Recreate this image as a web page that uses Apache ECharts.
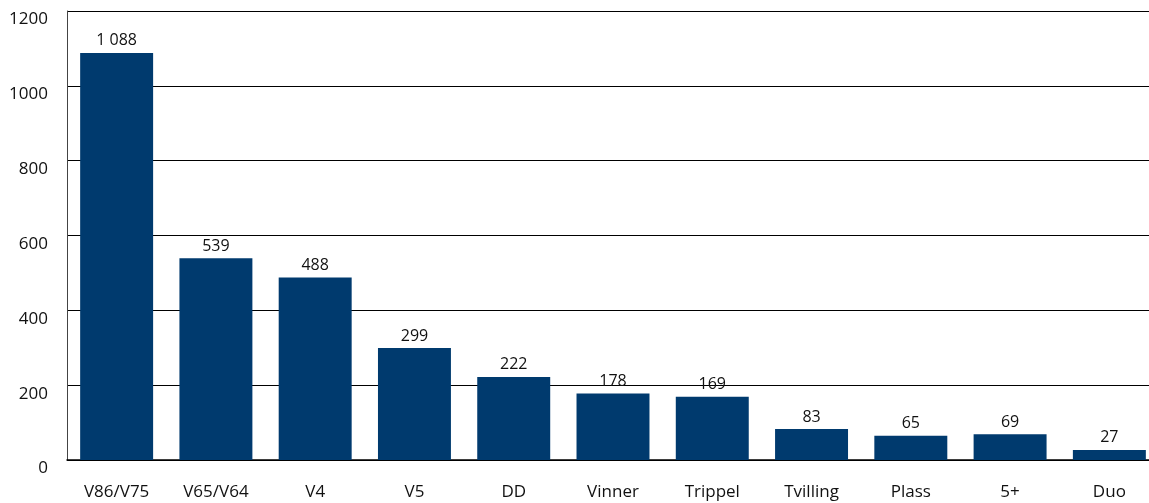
<!DOCTYPE html>
<html>
<head>
<meta charset="utf-8">
<script src="https://cdn.jsdelivr.net/npm/echarts@6/dist/echarts.min.js"></script>
<style>
  html, body { margin: 0; padding: 0; background: #fff; overflow: hidden; }
  #main { width: 1159px; height: 503px; }
</style>
</head>
<body>
<div id="main"></div>
<script>
var categories = ['V86/V75', 'V65/V64', 'V4', 'V5', 'DD', 'Vinner', 'Trippel', 'Tvilling', 'Plass', '5+', 'Duo'];
var values = [1088, 539, 488, 299, 222, 178, 169, 83, 65, 69, 27];

var chart = echarts.init(document.getElementById('main'));

var option = {
    backgroundColor: '#ffffff',
    animation: false,
    textStyle: { fontFamily: 'Open Sans' },
    grid: { left: 67, right: 0, top: 11, bottom: 43 },
    xAxis: {
        type: 'category',
        data: categories,
        axisLine: { lineStyle: { color: '#000', width: 1.5 } },
        axisTick: { show: false },
        axisLabel: { color: '#111', fontSize: 17, margin: 24, fontFamily: 'Open Sans' }
    },
    yAxis: {
        type: 'value',
        min: 0,
        max: 1200,
        interval: 200,
        axisLine: { show: true, lineStyle: { color: '#444', width: 1 } },
        axisTick: { show: false },
        axisLabel: {
            color: '#111', fontSize: 17, margin: 19, verticalAlign: 'top',
            fontFamily: 'Open Sans',
            formatter: function (v) { return String(v); }
        },
        splitLine: { lineStyle: { color: '#000', width: 1 } }
    },
    series: [{
        type: 'bar',
        data: values,
        barWidth: '73.5%',
        itemStyle: { color: '#003a6e' },
        label: {
            show: true,
            position: 'top',
            distance: 4,
            color: '#111',
            fontSize: 16,
            fontFamily: 'Open Sans',
            formatter: function (p) {
                return String(p.value).replace(/\B(?=(\d{3})+(?!\d))/g, ' ');
            }
        }
    }]
};

chart.setOption(option);
</script>
</body>
</html>
